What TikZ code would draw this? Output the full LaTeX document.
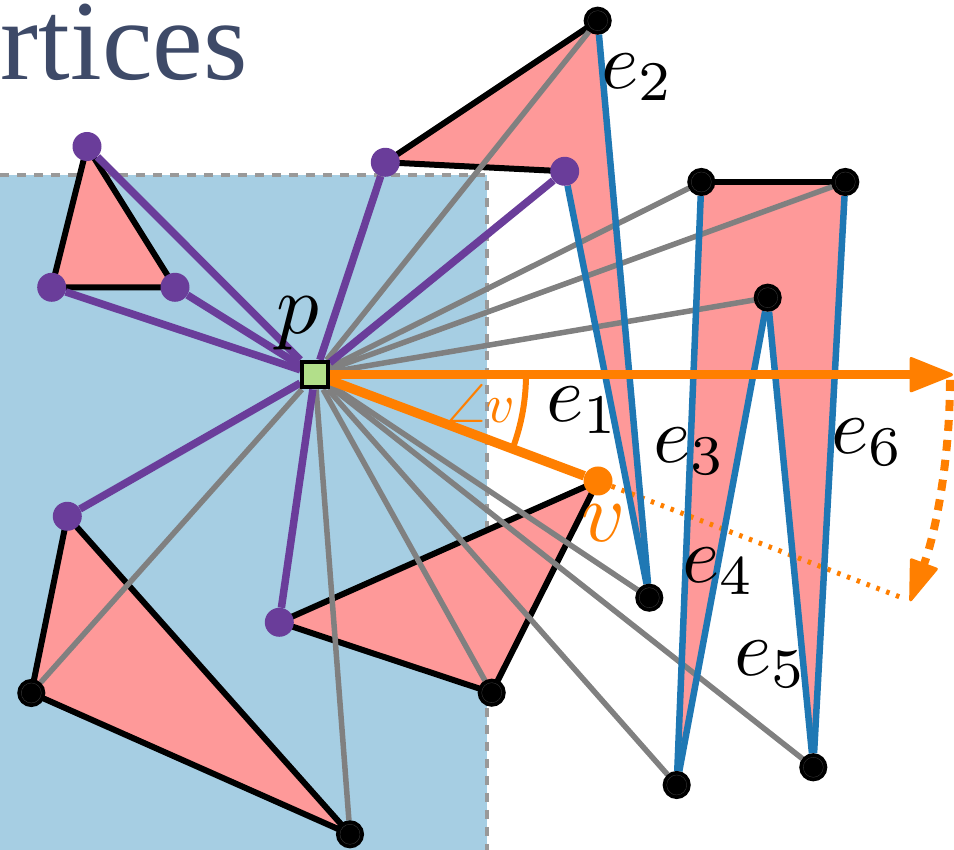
\documentclass[tikz,border=0pt]{standalone}
\usepackage{amsmath,amssymb}
\usepackage{fontspec}
\setmainfont{Liberation Serif}
\usepackage{xcolor}
\usetikzlibrary{arrows.meta}
\usetikzlibrary{backgrounds}

\definecolor{regionblue}{HTML}{A6CEE3}
\definecolor{trianglepink}{HTML}{FE9999}
\definecolor{startgreen}{HTML}{B2DF8A}
\definecolor{openpurple}{HTML}{6A3D9A}
\definecolor{edgeblue}{HTML}{1F78B4}
\definecolor{sweeporange}{HTML}{FF7F00}
\definecolor{titleslate}{HTML}{3E4A68}

\tikzset{
	purplevert/.style={circle,fill=openpurple,inner sep=0pt,minimum size=29pt},
	orangevert/.style={circle,fill=sweeporange,inner sep=0pt,minimum size=29pt},
	blackvert/.style={circle,fill=black,draw=black!75,line width=0.3pt,inner sep=0pt,minimum size=20pt,outer sep=4pt,preaction={draw=black,line width=8pt}},
	startvert/.style={rectangle,fill=startgreen,draw=black,line width=4pt,inner sep=0pt,minimum size=25.5pt},
	elabel/.style={scale=8},
	obstacle/.style={draw=black,line width=6pt,line join=round},
	greyray/.style={draw=black!50,line width=5.5pt},
	purpleray/.style={draw=openpurple,line width=7.5pt},
	bluewall/.style={draw=edgeblue,line width=6.5pt},
	orangeray/.style={draw=sweeporange,line width=9.5pt}
}

\begin{document}
\begin{tikzpicture}[x=1pt,y=1pt]
	\useasboundingbox (0,0) rectangle (954,850);

	% heading at the page edge
	\node[anchor=base west,inner sep=0pt,text=titleslate,font=\fontsize{114}{114}\selectfont] (title) at (0.5,770) {rtices};

	% start point and the vertices hit by a ray
	\node[startvert] (p) at (315,475.3) {};
	\node[purplevert] (a1) at (87,703.5) {};
	\node[purplevert] (a2) at (51.7,562.7) {};
	\node[purplevert] (a3) at (175,562.7) {};
	\node[purplevert] (b1) at (385.3,687.7) {};
	\node[purplevert] (b2) at (564.7,678.7) {};
	\node[purplevert] (c1) at (67.3,333.7) {};
	\node[purplevert] (c2) at (279.3,227.7) {};

	% remaining vertices
	\node[blackvert] (d1) at (597.7,829.3) {};
	\node[blackvert] (d2) at (701.3,668) {};
	\node[blackvert] (d3) at (845.3,668) {};
	\node[blackvert] (d4) at (767.7,552.3) {};
	\node[blackvert] (d5) at (649.3,252.3) {};
	\node[blackvert] (d6) at (676.7,65) {};
	\node[blackvert] (d7) at (813.3,82.7) {};
	\node[blackvert] (d8) at (491.7,157.3) {};
	\node[blackvert] (d9) at (31.3,157) {};
	\node[blackvert] (d10) at (350,15.7) {};

	% the vertex being tested
	\node[orangevert] (v) at (598,369) {};

	% free ends of the sweep
	\coordinate (rayend) at (953,475.3);
	\coordinate (arcstart) at (950,470);
	\coordinate (dotend) at (900,253);

	\begin{pgfonlayer}{background}
		% shaded half plane
		\fill[regionblue] (0,0) rectangle (487,674.5);
		\draw[black!40,line width=4pt,dash pattern=on 9pt off 8pt] (0,674.5) -- (487,674.5) -- (487,0);

		% pink faces
		\fill[trianglepink] (a1.center) -- (a2.center) -- (a3.center) -- cycle;
		\fill[trianglepink] (b1.center) -- (d1.center) -- (d5.center) -- (b2.center) -- cycle;
		\fill[trianglepink] (d2.center) -- (d3.center) -- (d7.center) -- (d4.center) -- (d6.center) -- cycle;
		\fill[trianglepink] (c1.center) -- (d9.center) -- (d10.center) -- cycle;
		\fill[trianglepink] (c2.center) -- (v.center) -- (d8.center) -- cycle;

		% black outlines
		\draw[obstacle] (a1.center) -- (a2.center) -- (a3.center) -- cycle;
		\draw[obstacle] (b2.center) -- (b1.center) -- (d1.center);
		\draw[obstacle] (d2.center) -- (d3.center);
		\draw[obstacle] (c1.center) -- (d9.center) -- (d10.center) -- cycle;
		\draw[obstacle] (c2.center) -- (v.center) -- (d8.center) -- cycle;

		% dotted line through the tested vertex
		\draw[sweeporange,line width=5pt,dash pattern=on 3.5pt off 7pt] (v) -- (dotend);

		% rays that are not open
		\draw[greyray] (p) -- (d1);
		\draw[greyray] (p) -- (d2);
		\draw[greyray] (p) -- (d3);
		\draw[greyray] (p) -- (d4);
		\draw[greyray] (p) -- (d5);
		\draw[greyray] (p) -- (d6);
		\draw[greyray] (p) -- (d7);
		\draw[greyray] (p) -- (d8);
		\draw[greyray] (p) -- (d9);
		\draw[greyray] (p) -- (d10);

		% edges e_i
		\draw[bluewall] (b2) -- (d5);
		\draw[bluewall] (d1) -- (d5);
		\draw[bluewall] (d2) -- (d6);
		\draw[bluewall] (d4) -- (d6);
		\draw[bluewall] (d4) -- (d7);
		\draw[bluewall] (d3) -- (d7);

		% open rays
		\draw[purpleray] (p) -- (a1);
		\draw[purpleray] (p) -- (a2);
		\draw[purpleray] (p) -- (a3);
		\draw[purpleray] (p) -- (b1);
		\draw[purpleray] (p) -- (b2);
		\draw[purpleray] (p) -- (c1);
		\draw[purpleray] (p) -- (c2);

		% sweep
		\draw[sweeporange,line width=6pt] (526,475.3) arc[start angle=0,end angle=-20.5,radius=211pt];
		\draw[sweeporange,line width=8pt,dash pattern=on 11pt off 9pt,-{Triangle[length=44pt,width=30pt,line width=3pt,round,sep=0pt]}] (arcstart) arc[start angle=0,end angle=-20.4,radius=635pt];
		\draw[orangeray] (p) -- (v);
		\draw[orangeray,-{Triangle[length=46pt,width=36pt,line width=3pt,round]}] (p) -- (rayend);
	\end{pgfonlayer}

	% labels
	\node[scale=8.5] (lp) at (298,527) {$p$};
	\node[elabel] (le1) at (583,440) {$e_1$};
	\node[elabel] (le2) at (638,773) {$e_2$};
	\node[elabel] (le3) at (690,399) {$e_3$};
	\node[elabel] (le4) at (719,279) {$e_4$};
	\node[elabel] (le5) at (771,186) {$e_5$};
	\node[elabel] (le6) at (868,408) {$e_6$};
	\node[scale=8.5,text=sweeporange] (lv) at (604,327) {$v$};
	\node[scale=5.5,text=sweeporange] (langle) at (481,447) {$\angle v$};
\end{tikzpicture}
\end{document}
